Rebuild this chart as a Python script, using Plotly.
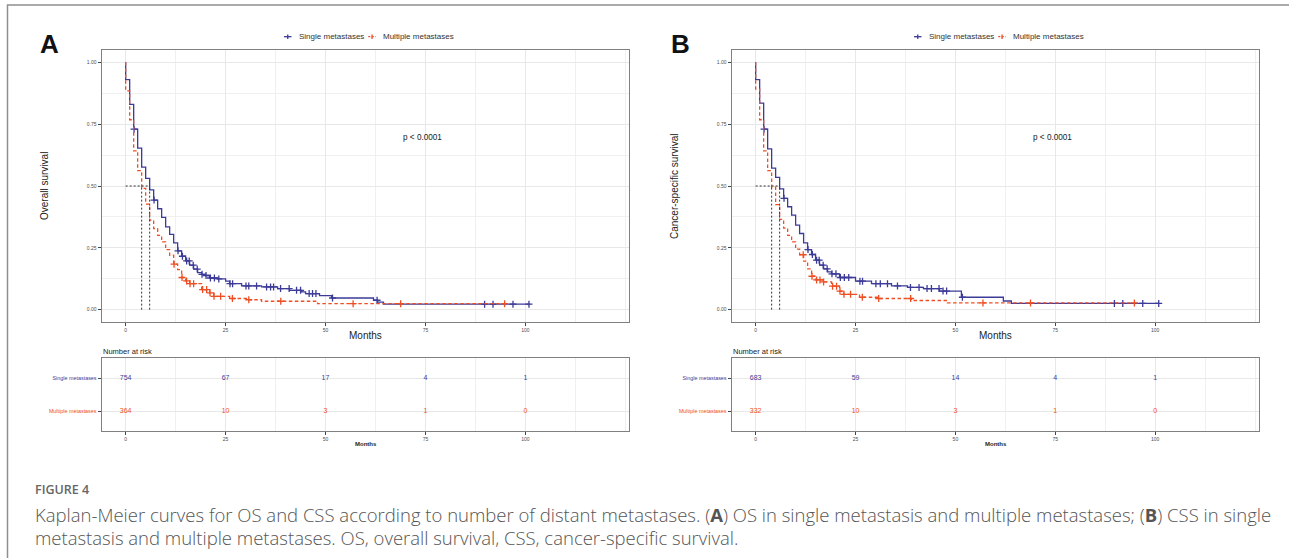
import plotly.graph_objects as go

W, H = 1289, 558

# ---------------- data ----------------
groups = ["Single metastases", "Multiple metastases"]
month_ticks = [0, 25, 50, 75, 100]
surv_ticks = [0, 0.25, 0.5, 0.75, 1.0]
surv_ticklabels = ["0.00", "0.25", "0.50", "0.75", "1.00"]

# Panel A: overall survival
a_single_t = [0, 0, 1, 2, 3, 4, 5, 6, 7, 8, 9, 10, 11, 12, 13, 14, 15, 16, 17, 18, 19, 20, 21, 23, 25, 26,
              29, 34, 38, 41, 44, 45, 48.5, 51.5, 62, 63, 64.5, 101]
a_single_s = [1.00, 0.93, 0.83, 0.73, 0.653, 0.576, 0.531, 0.484, 0.443, 0.408, 0.373, 0.335, 0.304, 0.270,
              0.238, 0.216, 0.197, 0.180, 0.164, 0.150, 0.143, 0.138, 0.128, 0.124, 0.115, 0.105,
              0.096, 0.092, 0.085, 0.078, 0.072, 0.065, 0.057, 0.047, 0.038, 0.030, 0.022, 0.022]
a_single_cens = [2.1, 7.1, 13.1, 14.2, 15.25, 15.9, 16.9, 17.9, 19.1, 20.1, 21.2, 22.2, 23.3, 26.1, 26.75,
                 30.1, 30.8, 32.75, 35.25, 36.25, 37, 38.75, 40.9, 42.75, 43.75, 45.9, 46.75, 47.6,
                 51.75, 62.9, 89.8, 91.9, 96.9, 100.9]
a_multi_t = [0, 0, 1, 2, 3, 4, 5, 6, 7, 8, 9, 10, 11, 12, 13, 14, 15, 16, 19, 21, 22, 26, 30.5, 34, 48, 95]
a_multi_s = [1.0, 0.885, 0.768, 0.642, 0.562, 0.49, 0.427, 0.362, 0.328, 0.300, 0.274, 0.243, 0.220, 0.184,
             0.162, 0.130, 0.116, 0.105, 0.081, 0.068, 0.054, 0.045, 0.040, 0.034, 0.024, 0.024]
a_multi_cens = [12.1, 14.1, 15.25, 16.1, 17, 19.25, 20.25, 21.1, 22.1, 23.75, 26.7, 30.8, 38.8, 56.9, 68.8, 94.8]
a_medians = [6, 4]
a_risk_single = [754, 67, 17, 4, 1]
a_risk_multi = [364, 10, 3, 1, 0]

# Panel B: cancer-specific survival
b_single_t = [0, 0, 1, 2, 3, 4, 5, 6, 7, 8, 9, 10, 11, 12, 13, 14, 15, 16, 17, 18, 19, 21, 25, 29, 34,
              38, 42, 46, 51.5, 62, 64, 101]
b_single_s = [1.0, 0.93, 0.835, 0.73, 0.65, 0.572, 0.535, 0.488, 0.45, 0.416, 0.382, 0.342, 0.308, 0.27,
              0.243, 0.223, 0.20, 0.18, 0.165, 0.153, 0.145, 0.13, 0.115, 0.105, 0.096,
              0.09, 0.085, 0.075, 0.05, 0.035, 0.025, 0.025]
b_single_cens = [2.1, 7.1, 13.1, 14.2, 15.25, 15.9, 16.9, 17.9, 19.1, 20.1, 21.2, 22.2, 23.3, 26.1, 26.75,
                 30.1, 31.2, 33, 35.5, 38.75, 40.9, 42.9, 44, 45.9, 46.9, 47.8, 51.75, 89.8, 91.9, 96.9, 100.9]
b_multi_t = [0, 0, 1, 2, 3, 4, 5, 6, 7, 8, 9, 10, 11, 12, 13, 14, 15, 17, 19, 21, 22, 26, 30.5, 39, 48, 95]
b_multi_s = [1.0, 0.892, 0.768, 0.642, 0.562, 0.495, 0.425, 0.365, 0.33, 0.30, 0.274, 0.245, 0.222, 0.196,
             0.165, 0.135, 0.12, 0.112, 0.095, 0.075, 0.062, 0.05, 0.045, 0.037, 0.027, 0.027]
b_multi_cens = [11.9, 14.1, 15.25, 16.1, 17, 19.25, 20.25, 21.1, 22.1, 23.75, 26.7, 30.8, 38.8, 56.9, 68.8, 94.8]
b_medians = [6, 4]
b_risk_single = [683, 59, 14, 4, 1]
b_risk_multi = [332, 10, 3, 1, 0]

# ---------------- style ----------------
BLUE = "#3C3B98"
RED = "#EF4E23"
FONT = "Liberation Sans, Arial, sans-serif"


def px(x):
    return x / W


def py(y):
    return 1 - y / H


def step_at(ts, ss, t):
    idx = max(i for i, ti in enumerate(ts) if ti <= t)
    return ss[idx]


fig = go.Figure()


def add_panel(xa, ya, xt, yt, st, ss, sc, mt, ms, mc, medians, risk_s, risk_m):
    for t, s, c, col, dash in [(st, ss, sc, BLUE, "solid"), (mt, ms, mc, RED, "3.5px,2.5px")]:
        fig.add_trace(go.Scatter(x=t, y=s, mode="lines", line=dict(color=col, width=1.3, shape="hv", dash=dash),
                                 xaxis=xa, yaxis=ya, showlegend=False, hoverinfo="skip"))
        fig.add_trace(go.Scatter(x=c, y=[step_at(t, s, v) for v in c], mode="markers",
                                 marker=dict(symbol="cross-thin", size=5, line=dict(color=col, width=1.3)),
                                 xaxis=xa, yaxis=ya, showlegend=False, hoverinfo="skip"))
    mx = [0, max(medians), None]
    my = [0.5, 0.5, None]
    for m in medians:
        mx += [m, m, None]
        my += [0, 0.5, None]
    fig.add_trace(go.Scatter(x=mx, y=my, mode="lines", line=dict(color="#333333", width=1, dash="2px,2px"),
                             xaxis=xa, yaxis=ya, showlegend=False, hoverinfo="skip"))
    fig.add_trace(go.Scatter(x=month_ticks, y=[2] * len(month_ticks), mode="text",
                             text=[str(v) for v in risk_s], textfont=dict(size=7, color=BLUE, family=FONT),
                             xaxis=xt, yaxis=yt, showlegend=False, hoverinfo="skip"))
    fig.add_trace(go.Scatter(x=month_ticks, y=[1] * len(month_ticks), mode="text",
                             text=[str(v) for v in risk_m], textfont=dict(size=7, color=RED, family=FONT),
                             xaxis=xt, yaxis=yt, showlegend=False, hoverinfo="skip"))


add_panel("x", "y", "x2", "y2", a_single_t, a_single_s, a_single_cens, a_multi_t, a_multi_s, a_multi_cens,
          a_medians, a_risk_single, a_risk_multi)
add_panel("x3", "y3", "x4", "y4", b_single_t, b_single_s, b_single_cens, b_multi_t, b_multi_s, b_multi_cens,
          b_medians, b_risk_single, b_risk_multi)

# ---------------- axes ----------------
main_y_dom = [py(322), py(50)]
tab_y_dom = [py(431), py(358.3)]
a_x_dom = [px(101.7), px(629.3)]
b_x_dom = [px(731.7), px(1259.0)]

BORDER = dict(showline=True, linecolor="#808080", linewidth=1.2, mirror=True, zeroline=False)


def xaxis(dom, anchor):
    return dict(domain=dom, anchor=anchor, range=[-6, 126], tickmode="array", tickvals=month_ticks,
                ticktext=[str(v) for v in month_ticks], ticks="outside", ticklen=3, tickwidth=1,
                tickcolor="#444", tickfont=dict(size=5, color="#4d4d4d", family=FONT),
                showgrid=True, gridcolor="#e8e8e8", gridwidth=1,
                minor=dict(tickmode="linear", tick0=0, dtick=12.5, showgrid=True, gridcolor="#f0f0f0",
                           gridwidth=0.8, ticks=""),
                **BORDER)


def yaxis_main(anchor):
    return dict(domain=main_y_dom, anchor=anchor, range=[-0.05, 1.05], tickmode="array", tickvals=surv_ticks,
                ticktext=surv_ticklabels, ticks="outside", ticklen=3, tickwidth=1, tickcolor="#444",
                tickfont=dict(size=5, color="#4d4d4d", family=FONT),
                showgrid=True, gridcolor="#e8e8e8", gridwidth=1,
                minor=dict(tickmode="linear", tick0=0, dtick=0.125, showgrid=True, gridcolor="#f0f0f0",
                           gridwidth=0.8, ticks=""),
                **BORDER)


def yaxis_tab(anchor):
    return dict(domain=tab_y_dom, anchor=anchor, range=[0.4, 2.6], tickmode="array", tickvals=[1, 2],
                ticktext=[f'<span style="color:{RED}">{groups[1]}</span>',
                          f'<span style="color:{BLUE}">{groups[0]}</span>'],
                ticks="outside", ticklen=3, tickwidth=1, tickcolor="#444",
                tickfont=dict(size=5.4, family=FONT),
                showgrid=True, gridcolor="#e8e8e8", gridwidth=1, **BORDER)


fig.update_layout(
    xaxis=xaxis(a_x_dom, "y"), yaxis=yaxis_main("x"),
    xaxis2=xaxis(a_x_dom, "y2"), yaxis2=yaxis_tab("x2"),
    xaxis3=xaxis(b_x_dom, "y3"), yaxis3=yaxis_main("x3"),
    xaxis4=xaxis(b_x_dom, "y4"), yaxis4=yaxis_tab("x4"),
)

# ---------------- annotations / shapes ----------------
ann = []
shapes = []
TXT = "#222222"


def note(x, y, text, size, color=TXT, xanchor="center", family=FONT, **kw):
    ann.append(dict(x=px(x), y=py(y), xref="paper", yref="paper", text=text, showarrow=False,
                    xanchor=xanchor, yanchor="middle", font=dict(size=size, color=color, family=family,
                                                                   **kw.pop("fontkw", {})), **kw))


panel_info = [("A", 0, "Overall survival", "x", "y"), ("B", 630, "Cancer-specific survival", "x3", "y3")]
for letter, dx, ytitle, xr, yr in panel_info:
    note(50 + dx, 43.5, f"<b>{letter}</b>", 26, color="#111")
    note(45 + dx, 186, ytitle, 10, textangle=-90)
    note(365.5 + dx, 335.5, "Months", 10)
    ann.append(dict(x=74.3, y=0.696, xref=xr, yref=yr, text="p < 0.0001", showarrow=False,
                    font=dict(size=8.2, color=TXT, family=FONT), xanchor="center", yanchor="middle"))
    note(101.2 + dx, 351.5, "Number at risk", 7.5, xanchor="left")
    note(365.5 + dx, 444.3, "<b>Months</b>", 6)
    for gname, col, x0, tx, dash in [(groups[0], BLUE, 284, 296.7, "solid"),
                                     (groups[1], RED, 368.3, 381, "2px,1.5px")]:
        shapes.append(dict(type="line", xref="paper", yref="paper", x0=px(x0 + dx), x1=px(x0 + 7.5 + dx),
                           y0=py(36.7), y1=py(36.7), line=dict(color=col, width=1.3, dash=dash)))
        shapes.append(dict(type="line", xref="paper", yref="paper", x0=px(x0 + 3.75 + dx),
                           x1=px(x0 + 3.75 + dx), y0=py(34.4), y1=py(39.0), line=dict(color=col, width=1.3)))
        note(tx + dx, 36.7, gname, 8, color="#333", xanchor="left")

# caption
CAP = "#555555"
note(33, 489, "FIGURE 4", 12.5, color="#666", xanchor="left", family="Open Sans", fontkw=dict(weight=600))
note(33, 514, "Kaplan-Meier curves for OS and CSS according to number of distant metastases. (<b>A</b>) OS in "
              "single metastasis and multiple metastases; (<b>B</b>) CSS in single",
     18.5, color=CAP, xanchor="left", family="Open Sans", fontkw=dict(weight=300))
note(33, 537, "metastasis and multiple metastases. OS, overall survival, CSS, cancer-specific survival.",
     18.5, color=CAP, xanchor="left", family="Open Sans", fontkw=dict(weight=300))

# figure frame (left and top edges; right/bottom lie outside the page)
shapes.append(dict(type="rect", xref="paper", yref="paper", x0=px(7.5), x1=1.02, y0=py(5), y1=-0.02,
                   line=dict(color="#8f8f8f", width=1.5), fillcolor="rgba(0,0,0,0)", layer="above"))

fig.update_layout(
    width=W, height=H, autosize=False,
    margin=dict(l=0, r=0, t=0, b=0),
    paper_bgcolor="white", plot_bgcolor="white",
    showlegend=False,
    annotations=ann, shapes=shapes,
    font=dict(family=FONT),
)

fig.write_html("out.html", config={"displayModeBar": False},
               post_script="document.body.style.margin='0';document.body.style.padding='0';")
